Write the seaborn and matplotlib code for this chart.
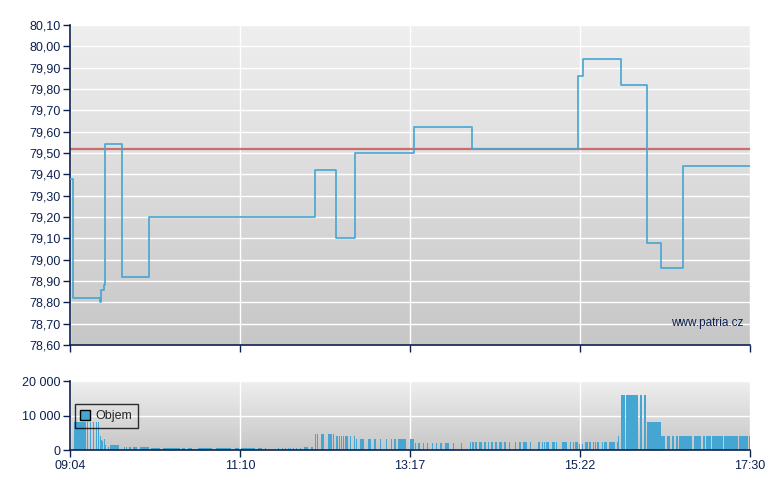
import numpy as np
import matplotlib
matplotlib.use("Agg")
import matplotlib.pyplot as plt
import seaborn as sns
from matplotlib.colors import LinearSegmentedColormap
from matplotlib.patches import Patch
from matplotlib.ticker import FuncFormatter

# cena - kazdy bod plati az do dalsiho (schody)
price_time = ["09:04", "09:06", "09:26", "09:27", "09:29", "09:30", "09:43", "10:03",
              "12:06", "12:22", "12:36", "13:20", "14:03", "15:22", "15:26", "15:54",
              "16:13", "16:24", "16:40", "17:30"]
price_value = [79.38, 78.82, 78.80, 78.86, 78.88, 79.54, 78.92, 79.20,
               79.42, 79.10, 79.50, 79.62, 79.52, 79.86, 79.94, 79.82,
               79.08, 78.96, 79.44, 79.44]
prev_close = 79.52

# objem - zacatek, delka v minutach, objem
vol_time = ["09:07", "09:17", "09:19", "09:21", "09:23", "09:25", "09:26", "09:27", "09:28", "09:29",
            "09:30", "09:32", "09:34", "09:44", "09:46", "09:48", "09:51", "09:56",
            "10:04", "10:13", "10:17", "10:27", "10:32", "10:39", "10:53", "11:07", "11:11", "11:24",
            "11:29", "11:39", "11:42", "11:44", "11:46", "11:48", "11:50", "11:52", "11:55", "11:58", "12:03",
            "12:06", "12:08", "12:11", "12:16", "12:20", "12:22", "12:24", "12:26", "12:27", "12:29",
            "12:30", "12:32", "12:35", "12:37", "12:40", "12:46", "12:50", "12:55", "12:59", "13:03",
            "13:05", "13:08", "13:17", "13:21", "13:23", "13:24", "13:27", "13:30", "13:33", "13:36",
            "13:39", "13:43", "13:49", "13:55", "14:02", "14:03", "14:05", "14:08", "14:12", "14:15",
            "14:17", "14:18", "14:20", "14:21", "14:23", "14:24", "14:27", "14:28", "14:31", "14:35",
            "14:38", "14:41", "14:46", "14:52", "14:53", "14:55", "14:57", "14:58", "15:03", "15:06",
            "15:10", "15:16", "15:18", "15:20", "15:23", "15:25", "15:27", "15:30", "15:33", "15:35",
            "15:36", "15:40", "15:41", "15:45", "15:51", "15:52", "15:54", "15:58", "16:00", "16:08",
            "16:11", "16:13", "16:23", "16:24", "16:28", "16:32", "16:35", "16:37", "16:39", "16:48",
            "16:55", "16:57", "17:02", "17:11", "17:22", "17:29"]
vol_len = [9, 1, 1, 1, 1, 1, 1, 1, 1, 1,
           1, 1, 7, 1, 1, 2, 3, 7,
           7, 4, 9, 3, 3, 11, 11, 3, 11, 3,
           1, 1, 1, 1, 1, 1, 1, 1, 1, 3, 2,
           1, 1, 2, 3, 1, 2, 1, 1, 1, 1,
           1, 1, 1, 1, 3, 2, 2, 1, 1, 1,
           2, 6, 3, 1, 1, 1, 1, 1, 1, 1,
           2, 3, 1, 1, 1, 2, 2, 3, 2, 1,
           1, 1, 1, 1, 1, 2, 1, 1, 1, 1,
           2, 3, 1, 1, 1, 1, 1, 3, 2, 1,
           4, 1, 1, 2, 1, 1, 3, 2, 1, 1,
           2, 1, 3, 5, 1, 1, 3, 2, 7, 2,
           2, 10, 1, 3, 3, 2, 2, 2, 8, 6,
           2, 4, 8, 10, 7, 1]
vol_value = [8000, 8000, 8000, 8000, 8000, 8000, 4000, 2900, 2700, 3200,
             1500, 800, 1500, 900, 900, 900, 900, 900,
             700, 600, 700, 600, 700, 700, 600, 700, 700, 600,
             600, 700, 700, 700, 700, 700, 700, 700, 700, 750, 800,
             4600, 4600, 4600, 4600, 4600, 4100, 4100, 4100, 4100, 4100,
             4100, 4100, 4100, 3200, 3200, 3200, 3200, 3200, 3200, 3200,
             3200, 3200, 3200, 2000, 2000, 2000, 2000, 2000, 2000, 2000,
             2000, 2000, 2000, 2000, 2300, 2300, 2300, 2300, 2300, 2300,
             2300, 2300, 2300, 2300, 2300, 2300, 2300, 2300, 2300, 2300,
             2300, 2300, 2300, 2300, 2300, 2300, 2300, 2300, 2300, 2300,
             2300, 2300, 2300, 2300, 1800, 1800, 2300, 2300, 2300, 2300,
             2300, 2300, 2300, 2300, 2300, 4000, 16000, 16000, 16000, 16000,
             16000, 8000, 8000, 4000, 4000, 4000, 4000, 4000, 4000, 4000,
             4000, 4000, 4000, 4000, 4000, 4000]

tick_labels = ["09:04", "11:10", "13:17", "15:22", "17:30"]


def to_min(t):
    h, m = t.split(":")
    return int(h) * 60 + int(m)


sns.set_style("white")
plt.rcParams["font.family"] = ["Liberation Sans", "DejaVu Sans"]

navy = "#0d2150"
blue = "#46a6d3"
bg = LinearSegmentedColormap.from_list("bg", ["#efefef", "#c7c7c7"])

fig = plt.figure(figsize=(7.8, 4.9), dpi=100)
ax = fig.add_axes([70 / 780, 145 / 490, 680 / 780, 320 / 490])
ax2 = fig.add_axes([70 / 780, 40 / 490, 680 / 780, 69 / 490])

t0 = to_min(tick_labels[0])
t1 = to_min(tick_labels[-1])
xt = np.linspace(t0, t1, len(tick_labels))

for a in (ax, ax2):
    a.imshow(np.linspace(0, 1, 200).reshape(-1, 1), cmap=bg, aspect="auto",
             extent=[0, 1, 0, 1], transform=a.transAxes, zorder=0)
    a.set_axisbelow(True)
    a.grid(True, color="white", lw=1)
    for s in ("top", "right"):
        a.spines[s].set_visible(False)
    for s in ("left", "bottom"):
        a.spines[s].set_color(navy)
        a.spines[s].set_linewidth(1.2)
    a.tick_params(axis="both", colors=navy, length=5, width=1, direction="out",
                  labelsize=9, pad=2, left=True, bottom=True)
    a.set_xlim(t0, t1)
    a.set_xticks(xt)

# horni graf - cena
px = [to_min(t) for t in price_time]
ax.axhline(prev_close, color="#c84646", lw=1.6, alpha=0.75, zorder=2)
sns.lineplot(x=px, y=price_value, drawstyle="steps-post", color=blue, lw=1.2,
             estimator=None, ax=ax, zorder=3)
ax.set_xlim(t0, t1)
ax.set_ylim(78.60, 80.10)
ax.set_yticks(np.round(np.arange(78.6, 80.101, 0.1), 2))
ax.yaxis.set_major_formatter(FuncFormatter(lambda v, _: f"{v:.2f}".replace(".", ",")))
ax.tick_params(axis="x", labelbottom=False)
ax.text(0.991, 0.069, "www.patria.cz", transform=ax.transAxes, ha="right", va="center",
        fontsize=8.5, color=navy, zorder=4)

# dolni graf - objem
vx = [to_min(t) for t in vol_time]
ax2.bar(vx, vol_value, width=np.array(vol_len) - 0.25, align="edge", color=blue,
        lw=0, antialiased=False, zorder=2)
ax2.set_xlim(t0, t1)
ax2.set_ylim(0, 20000)
ax2.set_yticks([0, 10000, 20000])
ax2.yaxis.set_major_formatter(FuncFormatter(lambda v, _: f"{int(v):,}".replace(",", " ")))
ax2.set_xticklabels(tick_labels)

leg = ax2.legend(handles=[Patch(facecolor=blue, edgecolor="black", lw=1)], labels=["Objem"],
                 loc="upper left", bbox_to_anchor=(0.007, 0.66), fancybox=False,
                 handlelength=0.8, handleheight=0.8, handletextpad=0.4, borderpad=0.45,
                 fontsize=9, borderaxespad=0)
leg.get_frame().set_facecolor("none")
leg.get_frame().set_edgecolor("black")
leg.get_frame().set_linewidth(1)

fig.savefig("out.png", dpi=100)
